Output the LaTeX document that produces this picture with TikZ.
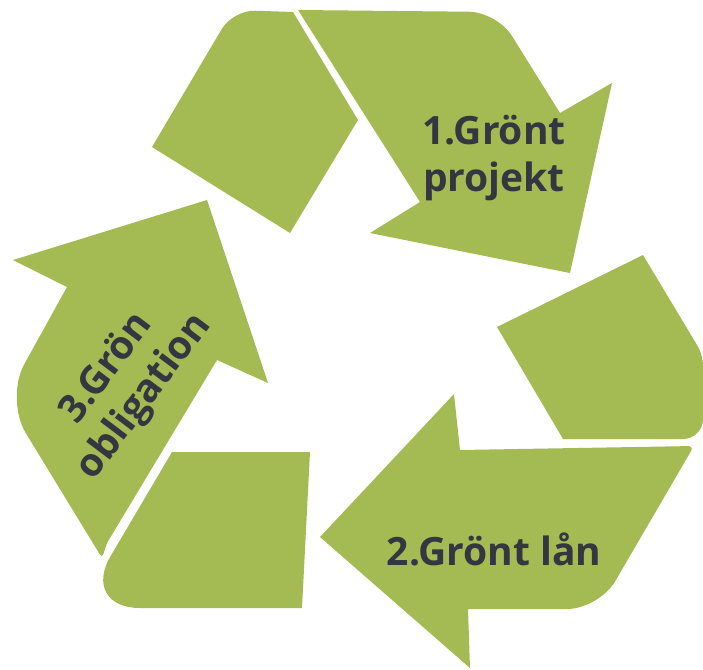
\documentclass[tikz,border=0pt]{standalone}
\usepackage{fontspec}
\setmainfont{Open Sans}
\usepackage{tikz}
\usetikzlibrary{positioning}
\usepackage{xcolor}
\definecolor{recgreen}{HTML}{A4BB53}
\definecolor{labelgray}{HTML}{343741}

\begin{document}
\begin{tikzpicture}[x=1pt,y=-1pt]
          \useasboundingbox (0,0) rectangle (703,669);
          \begin{scope}[every path/.style={fill=recgreen,draw=none}]
            % arrow 1 and the piece before it
            \fill (152,147) [rounded corners=22pt] -- (233,10) [sharp corners] -- (293,12) -- (358,120) -- (290,233) -- cycle;
            \fill (298,10) [rounded corners=28pt] -- (497,12) [sharp corners] -- (560,113) -- (612,83) -- (570,273) -- (370,233) -- (420,202) -- cycle;
            % arrow 2 and the piece before it
            \fill (497,327) -- (643,255) [rounded corners=10pt] -- (703,355) [rounded corners=20pt] -- (703,439) [sharp corners] -- (563,439) -- cycle;
            \fill (460,450) [rounded corners=6pt] -- (694,446) [rounded corners=32pt] -- (599,609) [sharp corners] -- (468,609) -- (470,668) -- (320,537) -- (454,394) -- cycle;
            % arrow 3 and the piece before it
            \fill (172,452) -- (310,452) -- (302,608) [rounded corners=60pt] -- (80,608) [sharp corners] -- cycle;
            \fill (67,287) -- (13,260) -- (207,200) -- (268,383) -- (217,360) -- (107,543) [rounded corners=4pt] -- (102,558) [rounded corners=40pt] -- (5,399) [sharp corners] -- cycle;
          \end{scope}
          \begin{scope}[every node/.style={text=labelgray,font=\bfseries\fontsize{39}{47}\selectfont,align=center,inner sep=0pt}]
            \node (proj) at (494,158) {1.Grönt\\projekt};
            \node (loan) at (494,549) {2.Grönt lån};
            \node[rotate=53] (bond) at (126,383) {3.Grön\\obligation};
          \end{scope}
        \end{tikzpicture}
\end{document}
